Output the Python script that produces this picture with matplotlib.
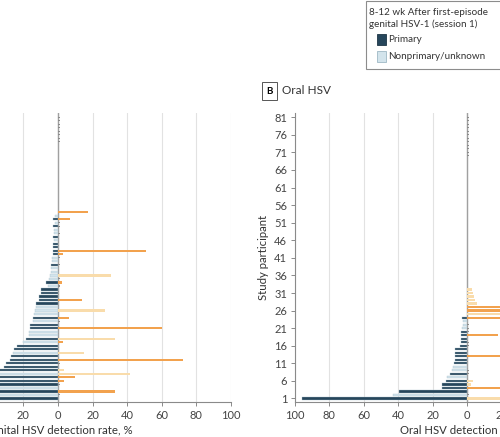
import numpy as np
import matplotlib.pyplot as plt
from matplotlib.patches import Rectangle

plt.rcParams['font.family'] = ['Lato', 'DejaVu Sans']

DARK_BLUE = '#26465b'
LIGHT_BLUE = '#d3e4ec'
DARK_ORANGE = '#f2a24e'
LIGHT_ORANGE = '#f9dcab'
ZERO_MARK = '#8c8c8c'

# Panel A: genital HSV, rows 1..54 (nan = no bar, 0 = zero marker)
genital_s1 = [60, 58, 55, 52, 50, 47, 44, 40, 34, 31.5,
              30, 28, 27, 26, 25.5, 23.5, 20, 18.5, 16.5, 16.5,
              16, 16, 14.5, 14.5, 14, 13.5, 13, 13, 11, 11,
              10, 10, 6, 7, 5, 4.5, 4, 4, 4, 3.5,
              3.5, 3, 3, 3, 3, 2.5, 3, 2.5, 2.5, 3,
              2, 3, 1.5, np.nan]
genital_s1_primary = [1, 0, 1, 0, 1, 1, 1, 0, 1, 1,
                      1, 1, 1, 0, 1, 1, 0, 1, 0, 0,
                      1, 1, 0, 1, 0, 0, 0, 1, 1, 1,
                      1, 1, 0, 1, 0, 0, 0, 0, 1, 0,
                      0, 1, 1, 1, 1, 0, 1, 0, 0, 1,
                      0, 1, 0, 0]
genital_s2 = [np.nan, 0, 33, np.nan, 0, 3.5, 9.8, 41.5, 3.5, np.nan,
              0, 72.5, np.nan, 15, np.nan, np.nan, 3, 33, np.nan, np.nan,
              60, np.nan, 0, 6.5, np.nan, 27, np.nan, np.nan, 13.7, np.nan,
              np.nan, np.nan, 0, 2.5, 0, 30.6, np.nan, np.nan, 0, np.nan,
              0, 3, 50.6, np.nan, np.nan, np.nan, np.nan, 0, np.nan, 0,
              0, 7, np.nan, 17.5]
genital_s2_primary = [0, 0, 1, 0, 0, 1, 1, 0, 0, 0,
                      0, 1, 0, 0, 0, 0, 1, 0, 0, 0,
                      1, 0, 0, 1, 0, 0, 0, 0, 1, 0,
                      0, 0, 0, 1, 0, 0, 0, 0, 0, 0,
                      0, 1, 1, 0, 0, 0, 0, 0, 0, 0,
                      0, 1, 0, 1]
genital_zero_rows = [74, 75, 76, 77, 78, 79, 80, 81]

# Panel B: oral HSV, rows 1..32
oral_s1 = [96, 43, 39.5, 14.5, 14.5, 12.5, 11.5, 10, 9, 8,
           7.5, 7, 7, 7, 7, 4, 3.5, 3.5, 3.5, 3.5,
           3, 2.5, 2.5, 3, np.nan, np.nan, np.nan, np.nan, np.nan, np.nan,
           np.nan, np.nan]
oral_s1_primary = [1, 0, 1, 1, 1, 1, 0, 1, 0, 0,
                   1, 1, 1, 1, 1, 1, 1, 1, 1, 1,
                   0, 0, 0, 1, 0, 0, 0, 0, 0, 0,
                   0, 0]
oral_s2 = [40, 0, np.nan, 45, 2, 3.5, np.nan, 0, 0, np.nan,
           np.nan, np.nan, 40, np.nan, np.nan, 0, 0, np.nan, 18, 0,
           0, 0, np.nan, 35, 25, 45, 30, 5.4, 4.4, 3.8,
           3.5, 3]
oral_s2_primary = [0, 0, 0, 1, 0, 0, 0, 0, 0, 0,
                   0, 0, 1, 0, 0, 0, 0, 0, 1, 0,
                   0, 0, 0, 1, 0, 1, 1, 0, 0, 0,
                   0, 0]
oral_zero_rows = [70, 71, 72, 73, 74, 75, 76, 77, 78, 79, 80, 81]

xticks = list(range(-100, 101, 20))
yticks = list(range(1, 82, 5))


def draw_panel(ax, s1, s1_p, s2, s2_p, zero_rows, xlabel):
    s1 = np.array(s1, dtype=float)
    s2 = np.array(s2, dtype=float)
    rows = np.arange(1, len(s1) + 1)

    ok = ~np.isnan(s1) & (s1 > 0)
    c1 = [DARK_BLUE if p else LIGHT_BLUE for p in s1_p]
    ax.barh(rows[ok], -s1[ok], height=0.62, color=np.array(c1)[ok],
            edgecolor='#a7bfca', linewidth=0.25, zorder=3)

    ok = ~np.isnan(s2) & (s2 > 0)
    c2 = [DARK_ORANGE if p else LIGHT_ORANGE for p in s2_p]
    ax.barh(rows[ok], s2[ok], height=0.62, color=np.array(c2)[ok],
            linewidth=0, zorder=3)

    # zero-value markers
    zeros = list(rows[s2 == 0]) + list(zero_rows)
    ax.barh(zeros, 1.2, height=0.3, color=ZERO_MARK, linewidth=0, zorder=3)

    ax.axvline(0, color='#a0a0a0', lw=1.0, zorder=2)
    ax.set_xlim(-100, 100)
    ax.set_ylim(0, 82.2)
    ax.set_xticks(xticks)
    ax.set_xticklabels([str(abs(t)) for t in xticks])
    ax.set_yticks(yticks)
    ax.xaxis.grid(True, color='#e2e2e2', lw=0.8)
    ax.set_axisbelow(True)
    for s in ['top', 'right']:
        ax.spines[s].set_visible(False)
    for s in ['left', 'bottom']:
        ax.spines[s].set_color('#8a8a8a')
        ax.spines[s].set_linewidth(0.8)
    ax.tick_params(colors='#8a8a8a', labelcolor='#444444', length=3,
                   width=0.7, labelsize=8, pad=2.5)
    ax.set_xlabel(xlabel, fontsize=8.2, color='#333333', labelpad=3)
    ax.set_ylabel('Study participant', fontsize=8.2, color='#333333', labelpad=4)


fig = plt.figure(figsize=(5, 4.37), dpi=100)
W, H = 500, 437

ax_a = fig.add_axes([-115 / W, 35 / H, 346 / W, 289 / H])
draw_panel(ax_a, genital_s1, genital_s1_primary, genital_s2, genital_s2_primary,
           genital_zero_rows, 'Genital HSV detection rate, %')

ax_b = fig.add_axes([294.8 / W, 35 / H, 345 / W, 289 / H])
draw_panel(ax_b, oral_s1, oral_s1_primary, oral_s2, oral_s2_primary,
           oral_zero_rows, 'Oral HSV detection rate, %')

# panel titles
box = dict(boxstyle='square,pad=0.45', fc='white', ec='#555555', lw=0.7)
fig.text(-147 / W, 1 - 91 / H, 'A', fontsize=7, fontweight='bold', va='center',
         bbox=box)
fig.text(-131 / W, 1 - 91 / H, 'Genital HSV', fontsize=8.5, color='#333333',
         va='center')
fig.text(266 / W, 1 - 91 / H, 'B', fontsize=7, fontweight='bold', va='center',
         bbox=box)
fig.text(282 / W, 1 - 91 / H, 'Oral HSV', fontsize=8.5, color='#333333',
         va='center')

# legend box (session 1)
fig.patches.append(Rectangle((366 / W, 1 - 69 / H), 200 / W, 68 / H,
                             transform=fig.transFigure, fc='white',
                             ec='#8c8c8c', lw=0.8))
fig.text(369 / W, 1 - 8 / H, '8-12 wk After first-episode\ngenital HSV-1 (session 1)',
         fontsize=7.1, color='#333333', va='top', linespacing=1.35)
fig.patches.append(Rectangle((377 / W, 1 - 44.5 / H), 8.5 / W, 10 / H,
                             transform=fig.transFigure, fc=DARK_BLUE,
                             ec='#1d3646', lw=0.6))
fig.text(388 / W, 1 - 39.5 / H, 'Primary', fontsize=7.1, color='#333333',
         va='center')
fig.patches.append(Rectangle((377 / W, 1 - 61.5 / H), 8.5 / W, 10 / H,
                             transform=fig.transFigure, fc=LIGHT_BLUE,
                             ec='#9fb8c4', lw=0.6))
fig.text(388 / W, 1 - 56.5 / H, 'Nonprimary/unknown', fontsize=7.1,
         color='#333333', va='center')

fig.savefig('out.png', dpi=100)
